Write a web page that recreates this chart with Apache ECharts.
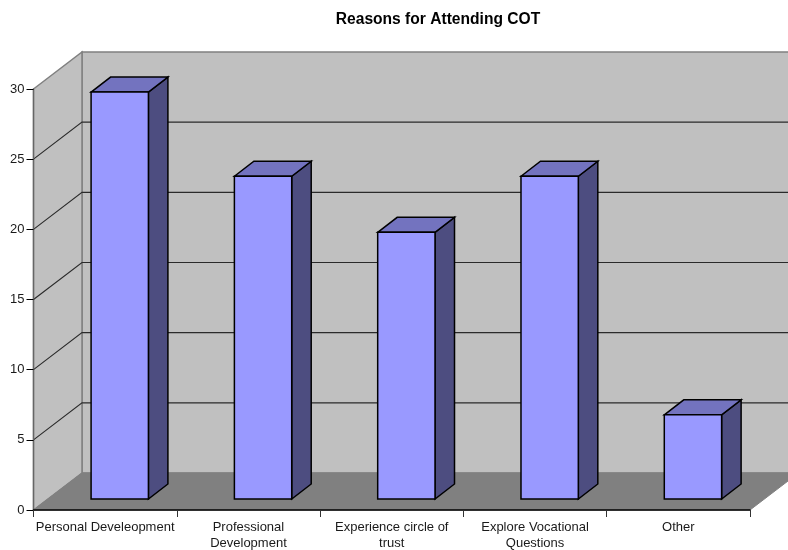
<!DOCTYPE html>
<html>
<head>
<meta charset="utf-8">
<style>html,body{margin:0;padding:0;background:#fff}#chart{width:788px;height:550px}</style>
<script src="https://cdn.jsdelivr.net/npm/echarts@6/dist/echarts.min.js"></script>
</head>
<body>
<div id="chart"></div>
<script>
// Survey responses per reason
const categories = ['Personal Develeopment', 'Professional\nDevelopment', 'Experience circle of\ntrust', 'Explore Vocational\nQuestions', 'Other'];
const values = [29, 23, 19, 23, 6];
const gridValues = [5, 10, 15, 20, 25];
const yMax = 30;
const yStep = 5;

// Oblique projection offsets, in pixels
const wallDepth = [48.5, -37];
const barInset = [14.6, -11];
const barDepth = [19.5, -15];
const barWidthRatio = 0.4;

const colors = {
  wall: '#c0c0c0', wallEdge: '#808080', floor: '#808080', grid: '#2a2a2a',
  front: '#9999ff', top: '#7373bf', side: '#4d4d80', edge: '#000000'
};

function face(points, fill, stroke, width) {
  return { type: 'polygon', shape: { points }, style: { fill, stroke, lineWidth: width } };
}

function renderRoom(params, api) {
  const cs = params.coordSys;
  const l = cs.x, r = cs.x + cs.width;
  const y0 = api.coord([0, 0])[1], yT = api.coord([0, yMax])[1];
  const dx = wallDepth[0], dy = wallDepth[1];
  return { type: 'group', children: [
    face([[l + dx, yT + dy], [r + dx, yT + dy], [r + dx, y0 + dy], [l + dx, y0 + dy]], colors.wall, colors.wallEdge, 1.5),
    face([[l, yT], [l + dx, yT + dy], [l + dx, y0 + dy], [l, y0]], colors.wall, colors.wallEdge, 1.5),
    face([[l, y0], [l + dx, y0 + dy], [r + dx, y0 + dy], [r, y0]], colors.floor, colors.floor, 1)
  ]};
}

function renderGridLine(params, api) {
  const cs = params.coordSys;
  const y = api.coord([0, api.value(1)])[1];
  const dx = wallDepth[0], dy = wallDepth[1];
  return { type: 'polyline',
    shape: { points: [[cs.x, y], [cs.x + dx, y + dy], [cs.x + cs.width + dx, y + dy]] },
    style: { fill: 'none', stroke: colors.grid, lineWidth: 1.1 } };
}

function renderBar(params, api) {
  const base = api.coord([api.value(0), 0]);
  const top = api.coord([api.value(0), api.value(1)]);
  const w = api.size([1, 0])[0] * barWidthRatio;
  const x0 = base[0] + barInset[0] - w / 2, x1 = x0 + w;
  const yB = base[1] + barInset[1], yTop = top[1] + barInset[1];
  const dx = barDepth[0], dy = barDepth[1];
  return { type: 'group', children: [
    face([[x1, yTop], [x1 + dx, yTop + dy], [x1 + dx, yB + dy], [x1, yB]], colors.side, colors.edge, 1.5),
    face([[x0, yTop], [x0 + dx, yTop + dy], [x1 + dx, yTop + dy], [x1, yTop]], colors.top, colors.edge, 1.5),
    face([[x0, yTop], [x1, yTop], [x1, yB], [x0, yB]], colors.front, colors.edge, 1.5)
  ]};
}

const chart = echarts.init(document.getElementById('chart'), null, { renderer: 'canvas' });
chart.setOption({
  animation: false,
  backgroundColor: '#ffffff',
  title: {
    text: 'Reasons for Attending COT',
    left: 433, top: 7, textAlign: 'center',
    textStyle: { fontFamily: 'Liberation Sans', fontSize: 15.6, fontWeight: 'bold', color: '#000' }
  },
  grid: { left: 33.5, right: 38, top: 89, bottom: 40, containLabel: false, outerBoundsMode: 'none' },
  xAxis: {
    type: 'category', data: categories, z: 6,
    axisLine: { lineStyle: { color: '#000', width: 1.5 } },
    axisTick: { show: true, alignWithLabel: false, length: 7, lineStyle: { color: '#333', width: 1 } },
    axisLabel: { interval: 0, margin: 10, lineHeight: 15.7, fontFamily: 'Liberation Sans', fontSize: 13, color: '#1a1a1a' }
  },
  yAxis: {
    type: 'value', min: 0, max: yMax, interval: yStep, z: 6,
    splitLine: { show: false },
    axisLine: { show: true, lineStyle: { color: '#666', width: 1.3 } },
    axisTick: { show: true, length: 7, lineStyle: { color: '#000', width: 1 } },
    axisLabel: { margin: 9, fontFamily: 'Liberation Sans', fontSize: 13, color: '#1a1a1a' }
  },
  series: [
    { type: 'custom', name: 'room', renderItem: renderRoom, data: [[0, 0]], silent: true, z: 1 },
    { type: 'custom', name: 'grid', renderItem: renderGridLine, data: gridValues.map(v => [0, v]), silent: true, z: 2 },
    { type: 'custom', name: 'Responses', renderItem: renderBar, data: values.map((v, i) => [i, v]), z: 3 }
  ]
});
</script>
</body>
</html>
